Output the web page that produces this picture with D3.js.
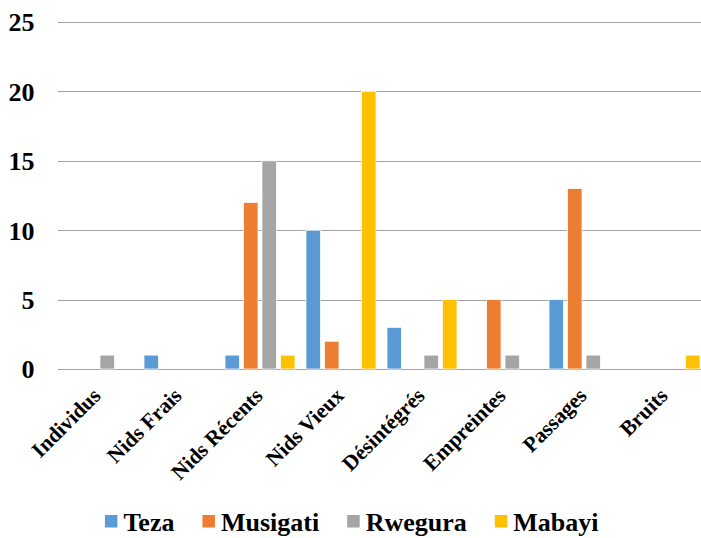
<!DOCTYPE html>
<html>
<head>
<meta charset="utf-8">
<script src="https://cdn.jsdelivr.net/npm/d3@7"></script>
<style>
  body { margin: 0; background: #fff; }
  text { font-family: "Liberation Serif", "Times New Roman", serif; font-weight: bold; }
</style>
</head>
<body>
<svg id="chart"></svg>
<script>
const categories = ["Individus", "Nids Frais", "Nids Récents", "Nids Vieux", "Désintégrés", "Empreintes", "Passages", "Bruits"];
const seriesNames = ["Teza", "Musigati", "Rwegura", "Mabayi"];
const teza     = [0, 1, 1, 10, 3, 0, 5, 0];
const musigati = [0, 0, 12, 2, 0, 5, 13, 0];
const rwegura  = [1, 0, 15, 0, 1, 1, 1, 0];
const mabayi   = [0, 0, 1, 20, 5, 0, 0, 1];
const yTicks = [0, 5, 10, 15, 20, 25];

const colors = ["#5B9BD5", "#ED7D31", "#A5A5A5", "#FFC000"];
const seriesValues = [teza, musigati, rwegura, mabayi];

const svg = d3.select("#chart")
  .attr("width", 701)
  .attr("height", 538);

const x0 = d3.scaleBand().domain(categories).range([57.5, 705.5]).padding(0);
const x1 = d3.scaleBand().domain(seriesNames).range([5.5, x0.bandwidth() - 5.5]).paddingInner(0.216);
const y = d3.scaleLinear().domain([0, 25]).range([369, 22]);
const color = d3.scaleOrdinal().domain(seriesNames).range(colors);

// gridlines
svg.append("g")
  .selectAll("line")
  .data(yTicks)
  .join("line")
  .attr("x1", 58)
  .attr("x2", 705)
  .attr("y1", d => Math.round(y(d)) + 0.5)
  .attr("y2", d => Math.round(y(d)) + 0.5)
  .attr("stroke", "#a3a3a3")
  .attr("stroke-width", 1);

// y tick labels
const yAxis = d3.axisLeft(y).tickValues(yTicks).tickSize(0).tickPadding(0);
const yg = svg.append("g")
  .attr("transform", "translate(34.5,0)")
  .call(yAxis)
  .attr("font-family", "Liberation Serif");
yg.select(".domain").remove();
yg.selectAll("text")
  .attr("font-size", 26)
  .attr("font-weight", "bold")
  .attr("fill", "#000")
  .attr("dy", "0.34em");

// bars
const rows = categories.map((c, i) => ({
  cat: c,
  vals: seriesNames.map((s, j) => ({ key: s, value: seriesValues[j][i] }))
}));

const groups = svg.append("g")
  .selectAll("g")
  .data(rows)
  .join("g")
  .attr("transform", d => `translate(${x0(d.cat)},0)`);

groups.selectAll("rect")
  .data(d => d.vals.filter(v => v.value > 0))
  .join("rect")
  .attr("x", d => x1(d.key))
  .attr("width", x1.bandwidth())
  .attr("y", d => y(d.value))
  .attr("height", d => y(0) - y(d.value))
  .attr("fill", d => color(d.key))
  .attr("stroke", "#fff")
  .attr("stroke-width", 0.75);

// category labels
svg.append("g")
  .selectAll("text")
  .data(categories)
  .join("text")
  .attr("transform", d => `translate(${x0(d) + x0.bandwidth() / 2 + 4},397) rotate(-45)`)
  .attr("text-anchor", "end")
  .attr("font-size", 21.5)
  .attr("fill", "#000")
  .text(d => d);

// legend
const legend = svg.append("g");
const items = legend.selectAll("g")
  .data(seriesNames)
  .join("g");

items.append("rect")
  .attr("width", 12.5)
  .attr("height", 12.5)
  .attr("y", -15.5)
  .attr("fill", d => color(d));

items.append("text")
  .attr("x", 18.5)
  .attr("font-size", 26)
  .attr("fill", "#000")
  .text(d => d);

let cursor = 0;
const itemX = [];
items.each(function() {
  const w = d3.select(this).select("text").node().getComputedTextLength();
  itemX.push(cursor);
  cursor += 18.5 + w + 28;
});
const totalW = cursor - 28;
const startX = 351.7 - totalW / 2;
items.attr("transform", (d, i) => `translate(${startX + itemX[i]},530.5)`);
</script>
</body>
</html>
